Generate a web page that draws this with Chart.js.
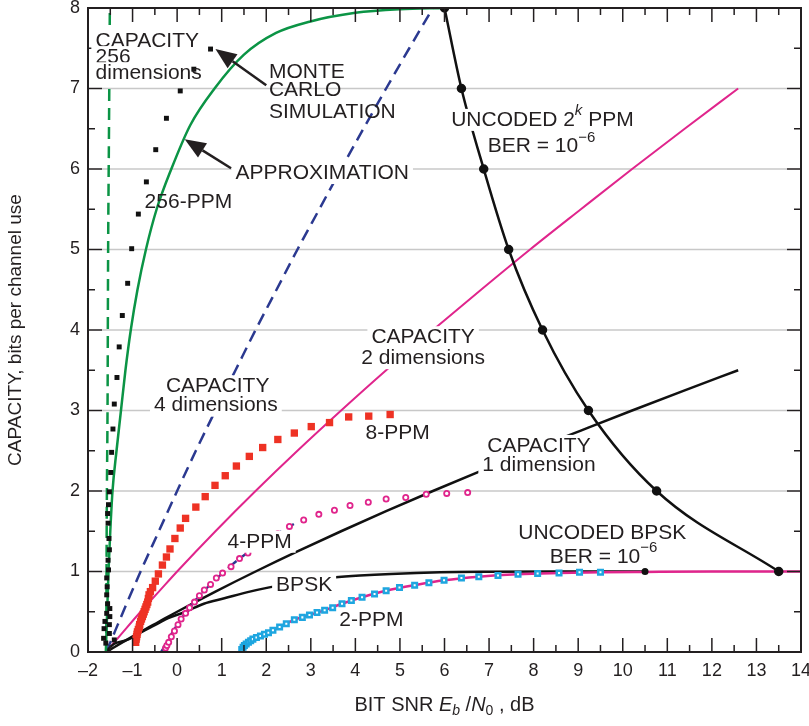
<!DOCTYPE html>
<html>
<head>
<meta charset="utf-8">
<script src="https://cdn.jsdelivr.net/npm/chart.js@4.4.1/dist/chart.umd.min.js"></script>
<style>
  html, body { margin: 0; padding: 0; background: #fff; }
  canvas { display: block; }
</style>
</head>
<body>
<canvas id="capacity" width="809" height="726"></canvas>
<script>
var ctx = document.getElementById("capacity").getContext('2d');

var FONT = '"Liberation Sans", Arial, Helvetica, sans-serif';
var INK = '#231f20';

// axis range (dB, bits per channel use)
var snrMin = -2, snrMax = 14;
var bitsMin = 0, bitsMax = 8;

// capacity, 256 dimensions (green dashed)
var cap256Snr  = [-1.59, -1.58, -1.56, -1.55, -1.53, -1.51];
var cap256Bits = [0, 1.6, 3.2, 4.8, 6.4, 8];

// capacity, 4 dimensions (blue dashed)
var cap4Snr  = [-1.59, -1.40, -1.21, -0.82, -0.41, 0, 0.42, 0.86, 1.31, 1.76, 2.23, 2.70, 3.19, 3.68, 4.18, 4.69, 5.21, 5.74];
var cap4Bits = [0, 0.25, 0.5, 1, 1.5, 2, 2.5, 3, 3.5, 4, 4.5, 5, 5.5, 6, 6.5, 7, 7.5, 8];

// capacity, 2 dimensions (magenta)
var cap2Snr  = [-1.59, -1.44, -1.21, -0.82, -0.41, 0, 0.86, 1.76, 2.70, 3.68, 4.69, 5.74, 6.82, 7.92, 9.06, 10.21, 11.39, 12.59];
var cap2Bits = [0, 0.1, 0.25, 0.5, 0.75, 1, 1.5, 2, 2.5, 3, 3.5, 4, 4.5, 5, 5.5, 6, 6.5, 7];

// capacity, 1 dimension (black)
var cap1Snr  = [-1.59, -1.44, -1.21, -0.82, -0.41, 0, 0.86, 1.76, 2.70, 3.68, 4.69, 5.74, 6.82, 7.92, 9.06, 10.21, 11.39, 12.59];
var cap1Bits = [0, 0.05, 0.125, 0.25, 0.375, 0.5, 0.75, 1, 1.25, 1.5, 1.75, 2, 2.25, 2.5, 2.75, 3, 3.25, 3.5];

// BPSK capacity (black)
var bpskSnr  = [-1.59, -1.52, -1.42, -1.12, -0.95, -0.79, -0.50, -0.20, 0.19, 0.60, 1.06, 1.63, 2.04, 2.36, 2.75, 3.10, 3.50, 4.10, 4.80, 5.90, 7.00, 8.50, 10.50];
var bpskBits = [0, 0.05, 0.10, 0.15, 0.20, 0.25, 0.333, 0.42, 0.50, 0.60, 0.667, 0.75, 0.80, 0.833, 0.87, 0.90, 0.925, 0.95, 0.97, 0.99, 0.997, 1.0, 1.0];

// 256-PPM approximation (green solid)
var approx256Snr  = [-1.60, -1.57, -1.54, -1.50, -1.45, -1.36, -1.26, -1.16, -1.04, -0.89, -0.70, -0.46, -0.13, 0.30, 0.84, 1.50, 2.22, 2.97, 4.0, 5.0, 6.0];
var approx256Bits = [0, 0.5, 1, 1.5, 2, 2.5, 3, 3.5, 4, 4.5, 5, 5.5, 6, 6.55, 7, 7.42, 7.69, 7.83, 7.94, 7.985, 8.0];

// 256-PPM Monte Carlo (black squares)
var ppm256Snr  = [-1.60, -1.41, -1.65, -1.52, -1.64, -1.52, -1.62, -1.51, -1.58, -1.51, -1.56, -1.58, -1.57, -1.58, -1.54, -1.55, -1.52, -1.53, -1.55, -1.56, -1.54, -1.52, -1.49, -1.47, -1.44, -1.41, -1.35, -1.30, -1.23, -1.11, -1.02, -0.87, -0.69, -0.48, -0.24, 0.07, 0.375, 0.75];
var ppm256Bits = [0.11, 0.15, 0.17, 0.23, 0.29, 0.34, 0.38, 0.44, 0.48, 0.54, 0.60, 0.71, 0.81, 0.92, 1.02, 1.14, 1.27, 1.41, 1.60, 1.72, 1.83, 1.99, 2.23, 2.48, 2.77, 3.08, 3.41, 3.79, 4.18, 4.58, 5.01, 5.44, 5.84, 6.24, 6.63, 6.97, 7.24, 7.49];

// 8-PPM (red squares)
var ppm8Snr  = [-0.93, -0.92, -0.91, -0.90, -0.89, -0.87, -0.85, -0.84, -0.82, -0.80, -0.78, -0.76, -0.74, -0.72, -0.70, -0.68, -0.66, -0.645, -0.63, -0.60, -0.55, -0.49, -0.42, -0.33, -0.24, -0.16, -0.05, 0.07, 0.19, 0.42, 0.63, 0.85, 1.08, 1.33, 1.62, 1.92, 2.26, 2.63, 3.01, 3.42, 3.85, 4.30, 4.78];
var ppm8Bits = [0.12, 0.16, 0.19, 0.22, 0.25, 0.28, 0.31, 0.34, 0.38, 0.41, 0.44, 0.47, 0.50, 0.53, 0.56, 0.59, 0.62, 0.665, 0.71, 0.75, 0.80, 0.88, 0.97, 1.08, 1.18, 1.28, 1.41, 1.54, 1.66, 1.80, 1.93, 2.07, 2.19, 2.31, 2.43, 2.54, 2.64, 2.72, 2.80, 2.85, 2.92, 2.93, 2.95];

// 4-PPM (magenta circles) and its approximation (blue dashed)
var ppm4Snr  = [-0.26, -0.23, -0.19, -0.13, -0.06, 0.02, 0.09, 0.19, 0.28, 0.39, 0.50, 0.61, 0.75, 0.88, 1.02, 1.21, 1.40, 1.59, 1.80, 2.02, 2.26, 2.52, 2.84, 3.18, 3.53, 3.88, 4.29, 4.69, 5.13, 5.59, 6.05, 6.52];
var ppm4Bits = [0.05, 0.08, 0.12, 0.19, 0.26, 0.34, 0.41, 0.48, 0.55, 0.62, 0.70, 0.77, 0.84, 0.92, 0.98, 1.06, 1.16, 1.23, 1.31, 1.39, 1.47, 1.56, 1.64, 1.71, 1.76, 1.82, 1.86, 1.90, 1.92, 1.96, 1.97, 1.98];
var ppm4LineSnr  = [-0.36, -0.23, -0.10, 0.09, 0.28, 0.50, 0.75, 1.02, 1.40, 1.80, 2.26, 2.62];
var ppm4LineBits = [0, 0.12, 0.25, 0.41, 0.55, 0.70, 0.84, 0.98, 1.16, 1.31, 1.47, 1.59];

// 2-PPM (cyan squares) and its approximation (magenta)
var ppm2Snr  = [1.45, 1.48, 1.51, 1.55, 1.60, 1.65, 1.70, 1.78, 1.87, 1.96, 2.05, 2.15, 2.30, 2.45, 2.63, 2.81, 2.97, 3.14, 3.31, 3.49, 3.70, 3.91, 4.15, 4.43, 4.69, 4.99, 5.33, 5.65, 5.99, 6.38, 6.77, 7.20, 7.65, 8.09, 8.57, 9.03, 9.50];
var ppm2Bits = [0.03, 0.06, 0.08, 0.10, 0.12, 0.14, 0.16, 0.18, 0.20, 0.22, 0.24, 0.27, 0.31, 0.35, 0.40, 0.43, 0.46, 0.49, 0.52, 0.55, 0.60, 0.64, 0.68, 0.72, 0.76, 0.80, 0.83, 0.86, 0.89, 0.92, 0.935, 0.95, 0.965, 0.975, 0.98, 0.99, 0.99];
var ppm2LineSnr  = [1.40, 1.51, 1.70, 1.96, 2.15, 2.30, 2.63, 2.97, 3.31, 3.70, 4.15, 4.69, 5.33, 5.99, 6.77, 7.65, 8.57, 9.50, 10.50, 12.00, 14.00];
var ppm2LineBits = [0, 0.08, 0.16, 0.22, 0.27, 0.31, 0.40, 0.46, 0.52, 0.60, 0.68, 0.76, 0.83, 0.89, 0.935, 0.965, 0.98, 0.99, 0.995, 1.0, 1.0];

// uncoded 2^k PPM at BER 1e-6 (k = 8 ... 1) and uncoded BPSK
var uncodedPpmSnr  = [6.00, 6.38, 6.88, 7.44, 8.20, 9.23, 10.76, 13.50];
var uncodedPpmBits = [8, 7, 6, 5, 4, 3, 2, 1];
var uncodedBpskSnr  = [10.5];
var uncodedBpskBits = [1];

function pts(xs, ys) {
    return xs.map(function (x, i) { return {x: x, y: ys[i]}; });
}

// text notes, placed in data units
var notes = [
    {parts: ['CAPACITY'], x: -1.83, y: 7.59, align: 'left', box: true, boxMax: 0.28},
    {parts: ['256'], x: -1.83, y: 7.39, align: 'left', box: true, boxMax: 0.28},
    {parts: ['dimensions'], x: -1.83, y: 7.19, align: 'left', box: true, boxMax: 0.28},
    {parts: ['MONTE'], x: 2.06, y: 7.20, align: 'left'},
    {parts: ['CARLO'], x: 2.06, y: 6.98, align: 'left'},
    {parts: ['SIMULATION'], x: 2.06, y: 6.71, align: 'left'},
    {parts: ['APPROXIMATION'], x: 1.31, y: 5.95, align: 'left', box: true},
    {parts: ['256-PPM'], x: -0.73, y: 5.59, align: 'left'},
    {parts: ['UNCODED 2', {t: 'k', sup: true, it: true}, ' PPM'], x: 6.15, y: 6.61, align: 'left', box: true},
    {parts: ['BER = 10', {t: '\u22126', sup: true}], x: 6.97, y: 6.28, align: 'left'},
    {parts: ['CAPACITY'], x: 5.52, y: 3.91, box: true},
    {parts: ['2 dimensions'], x: 5.52, y: 3.65, box: true},
    {parts: ['8-PPM'], x: 4.95, y: 2.72},
    {parts: ['CAPACITY'], x: 8.12, y: 2.56, box: true},
    {parts: ['1 dimension'], x: 8.12, y: 2.32, box: true},
    {parts: ['CAPACITY'], x: 0.91, y: 3.30, box: true},
    {parts: ['4 dimensions'], x: 0.87, y: 3.06, box: true},
    {parts: ['4-PPM'], x: 1.85, y: 1.37, box: true},
    {parts: ['BPSK'], x: 2.85, y: 0.83, box: true},
    {parts: ['2-PPM'], x: 4.36, y: 0.40},
    {parts: ['UNCODED BPSK'], x: 9.54, y: 1.475},
    {parts: ['BER = 10', {t: '\u22126', sup: true}], x: 9.57, y: 1.18}
];

var arrows = [
    {from: [2.00, 7.04], to: [0.86, 7.49]},
    {from: [1.21, 6.01], to: [0.17, 6.37]}
];

function richItems(c, parts, size) {
    var w = 0;
    var items = parts.map(function (p) {
        var it = typeof p === 'string' ? {t: p} : Object.assign({}, p);
        it.size = (it.sup || it.sub) ? Math.round(size * 0.72) : size;
        c.font = (it.it ? 'italic ' : '') + it.size + 'px ' + FONT;
        it.w = c.measureText(it.t).width;
        w += it.w;
        return it;
    });
    return {items: items, w: w};
}

function drawRich(c, r, x0, y, size) {
    var x = x0;
    c.textAlign = 'left';
    c.textBaseline = 'middle';
    r.items.forEach(function (it) {
        c.font = (it.it ? 'italic ' : '') + it.size + 'px ' + FONT;
        var dy = it.sup ? -size * 0.42 : (it.sub ? size * 0.3 : 0);
        c.fillText(it.t, x, y + dy);
        x += it.w;
    });
}

var decor = {
    id: 'decor',
    beforeDatasetsDraw: function (chart) {
        var c = chart.ctx, a = chart.chartArea, ys = chart.scales.y;
        c.save();
        c.strokeStyle = '#c8c8c8';
        c.lineWidth = 1.6;
        for (var v = 1; v < bitsMax; v++) {
            var y = ys.getPixelForValue(v);
            c.beginPath();
            c.moveTo(a.left + 14, y);
            c.lineTo(a.right - 14, y);
            c.stroke();
        }
        c.restore();
    },
    afterDatasetsDraw: function (chart) {
        var c = chart.ctx, a = chart.chartArea, xs = chart.scales.x, ys = chart.scales.y;
        c.save();
        c.strokeStyle = INK;
        c.fillStyle = INK;

        // inward ticks on all four sides
        c.lineWidth = 1.5;
        var v, p, len;
        for (v = snrMin + 0.5; v < snrMax; v += 0.5) {
            p = xs.getPixelForValue(v);
            len = (v % 1 === 0) ? 14 : 7;
            c.beginPath();
            c.moveTo(p, a.bottom); c.lineTo(p, a.bottom - len);
            c.moveTo(p, a.top); c.lineTo(p, a.top + len);
            c.stroke();
        }
        for (v = bitsMin + 0.5; v < bitsMax; v += 0.5) {
            p = ys.getPixelForValue(v);
            len = (v % 1 === 0) ? 14 : 7;
            c.beginPath();
            c.moveTo(a.left, p); c.lineTo(a.left + len, p);
            c.moveTo(a.right, p); c.lineTo(a.right - len, p);
            c.stroke();
        }
        c.lineWidth = 2;
        c.strokeRect(a.left, a.top, a.right - a.left, a.bottom - a.top);

        // notes
        var size = 21;
        notes.forEach(function (n) {
            var r = richItems(c, n.parts, size);
            var cx = xs.getPixelForValue(n.x), cy = ys.getPixelForValue(n.y);
            var x0 = n.align === 'left' ? cx : cx - r.w / 2;
            if (n.box) {
                var right = x0 + r.w + 4;
                if (n.boxMax !== undefined) right = Math.min(right, xs.getPixelForValue(n.boxMax));
                c.fillStyle = '#fff';
                c.fillRect(x0 - 4, cy - 11, right - x0 + 4, 22);
                c.fillStyle = INK;
            }
            drawRich(c, r, x0, cy, size);
        });

        // arrows
        arrows.forEach(function (ar) {
            var x1 = xs.getPixelForValue(ar.from[0]), y1 = ys.getPixelForValue(ar.from[1]);
            var x2 = xs.getPixelForValue(ar.to[0]), y2 = ys.getPixelForValue(ar.to[1]);
            var ang = Math.atan2(y2 - y1, x2 - x1), hl = 21, hw = 8.5;
            var bx = x2 - hl * Math.cos(ang), by = y2 - hl * Math.sin(ang);
            c.lineWidth = 2.5;
            c.beginPath(); c.moveTo(x1, y1); c.lineTo(bx, by); c.stroke();
            c.beginPath();
            c.moveTo(x2, y2);
            c.lineTo(bx + hw * Math.sin(ang), by - hw * Math.cos(ang));
            c.lineTo(bx - hw * Math.sin(ang), by + hw * Math.cos(ang));
            c.closePath(); c.fill();
        });

        // axis titles
        var xt = richItems(c, ['BIT SNR ', {t: 'E', it: true}, {t: 'b', sub: true, it: true}, ' /', {t: 'N', it: true}, {t: '0', sub: true}, ' , dB'], 20);
        drawRich(c, xt, (a.left + a.right) / 2 - xt.w / 2, 705, 20);

        c.translate(16, (a.top + a.bottom) / 2);
        c.rotate(-Math.PI / 2);
        c.font = '19px ' + FONT;
        c.textAlign = 'center';
        c.textBaseline = 'middle';
        c.fillText('CAPACITY, bits per channel use', 0, 0);
        c.restore();
    }
};

function lineSet(label, xs, ys, color, width, dash) {
    return {
        label: label, data: pts(xs, ys), showLine: true, fill: false,
        borderColor: color, backgroundColor: color, borderWidth: width,
        borderDash: dash || [], pointRadius: 0, pointHoverRadius: 0,
        cubicInterpolationMode: 'monotone'
    };
}

function markSet(label, xs, ys, style, radius, fillColor, edgeColor, edge) {
    return {
        label: label, data: pts(xs, ys), showLine: false,
        pointStyle: style, pointRadius: radius, pointHoverRadius: radius,
        backgroundColor: fillColor, borderColor: edgeColor, pointBorderWidth: edge
    };
}

var uncodedLine = lineSet('Uncoded 2^k PPM', uncodedPpmSnr, uncodedPpmBits, '#111', 2.5);
uncodedLine.pointRadius = 3.5;
uncodedLine.pointBackgroundColor = '#111';

var chart = new Chart(ctx, {
    type: 'scatter',
    data: {
        datasets: [
            markSet('Uncoded BPSK', uncodedBpskSnr, uncodedBpskBits, 'circle', 3.5, '#111', '#111', 0),
            uncodedLine,
            markSet('256-PPM', ppm256Snr, ppm256Bits, 'rect', 3.5, '#111', '#111', 0),
            markSet('8-PPM', ppm8Snr, ppm8Bits, 'rect', 5.2, '#ee3224', '#ee3224', 0),
            markSet('4-PPM', ppm4Snr, ppm4Bits, 'circle', 2.6, '#fff', '#e0258c', 1.8),
            markSet('2-PPM', ppm2Snr, ppm2Bits, 'rect', 3.2, '#fff', '#1ea6e0', 2.5),
            lineSet('2-PPM approx', ppm2LineSnr, ppm2LineBits, '#e0258c', 2.5),
            lineSet('4-PPM approx', ppm4LineSnr, ppm4LineBits, '#2b3990', 2.4, [11, 7]),
            lineSet('256-PPM approx', approx256Snr, approx256Bits, '#0b9445', 2.5),
            lineSet('BPSK', bpskSnr, bpskBits, '#111', 2.5),
            lineSet('Capacity 1 dim', cap1Snr, cap1Bits, '#111', 2.5),
            lineSet('Capacity 2 dim', cap2Snr, cap2Bits, '#e0258c', 2),
            lineSet('Capacity 4 dim', cap4Snr, cap4Bits, '#2b3990', 2.5, [12, 7]),
            lineSet('Capacity 256 dim', cap256Snr, cap256Bits, '#0b9445', 2.5, [12, 7])
        ]
    },
    options: {
        responsive: false,
        animation: false,
        devicePixelRatio: 1,
        layout: {padding: {top: 8, right: 8, left: 0, bottom: 0}},
        plugins: {legend: {display: false}, tooltip: {enabled: false}},
        scales: {
            x: {
                type: 'linear', min: snrMin, max: snrMax,
                grid: {display: false, drawTicks: false},
                border: {display: false},
                ticks: {
                    stepSize: 1, autoSkip: false, maxRotation: 0, padding: 8,
                    color: INK, font: {family: FONT, size: 18},
                    callback: function (v) { return v < 0 ? '\u2013' + Math.abs(v) : String(v); }
                },
                afterFit: function (s) { s.height = 74; s.paddingLeft = 0; s.paddingRight = 0; }
            },
            y: {
                type: 'linear', min: bitsMin, max: bitsMax,
                grid: {display: false, drawTicks: false},
                border: {display: false},
                ticks: {stepSize: 1, padding: 8, color: INK, font: {family: FONT, size: 18}},
                afterFit: function (s) { s.width = 88; s.paddingTop = 0; s.paddingBottom = 0; }
            }
        }
    },
    plugins: [decor]
});
</script>
</body>
</html>
